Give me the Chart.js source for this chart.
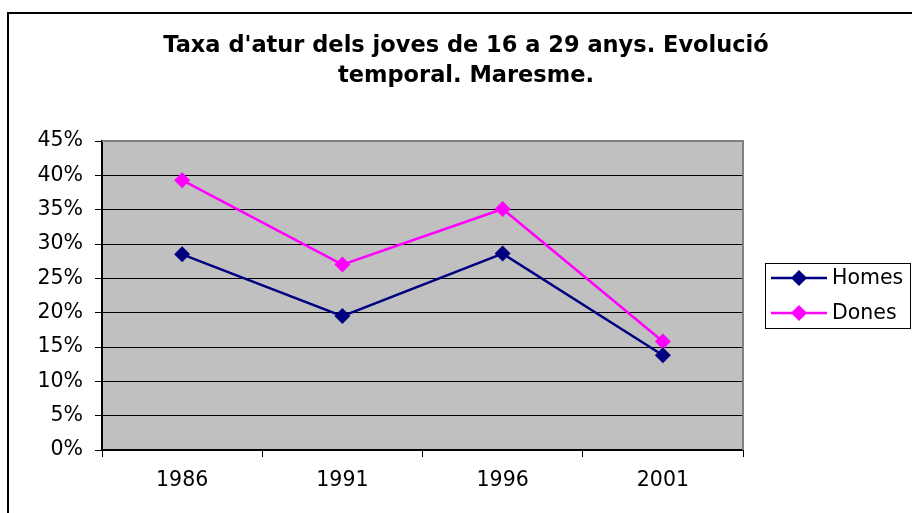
<!DOCTYPE html>
<html>
<head>
<meta charset="utf-8">
<script src="https://cdn.jsdelivr.net/npm/chart.js@4"></script>
<style>
  html, body { margin: 0; padding: 0; background: #fff; }
  #wrap { width: 912px; height: 513px; }
</style>
</head>
<body>
<div id="wrap"><canvas id="aturChart" width="912" height="513"></canvas></div>
<script>
const years = ['1986', '1991', '1996', '2001'];
const homes = [0.285, 0.195, 0.286, 0.138];
const dones = [0.393, 0.270, 0.351, 0.158];
const yTicks = [0, 0.05, 0.10, 0.15, 0.20, 0.25, 0.30, 0.35, 0.40, 0.45];
const titleLines = ["Taxa d'atur dels joves de 16 a 29 anys. Evolució", 'temporal. Maresme.'];

const FONT = "'DejaVu Sans', Verdana, sans-serif";

// gray plot background, outer frame, title, gray top/right border, boxed legend
const excelLook = {
    id: 'excelLook',
    beforeDraw(chart) {
        const ctx = chart.ctx;
        const a = chart.chartArea;
        ctx.save();
        ctx.fillStyle = '#c0c0c0';
        ctx.fillRect(a.left, a.top, a.right - a.left, a.bottom - a.top);
        // outer chart frame (runs off the canvas right and bottom)
        ctx.strokeStyle = '#000';
        ctx.lineWidth = 2;
        ctx.beginPath();
        ctx.moveTo(8, 513);
        ctx.lineTo(8, 13);
        ctx.lineTo(912, 13);
        ctx.stroke();
        // title is centred on the whole Excel chart box, not the plot
        ctx.fillStyle = '#000';
        ctx.font = 'bold 22.5px ' + FONT;
        ctx.textAlign = 'center';
        ctx.textBaseline = 'middle';
        titleLines.forEach(function(line, i) {
            ctx.fillText(line, 466, 46 + i * 30);
        });
        ctx.restore();
    },
    beforeDatasetsDraw(chart) {
        const ctx = chart.ctx;
        const a = chart.chartArea;
        ctx.save();
        ctx.strokeStyle = '#808080';
        ctx.lineWidth = 2;
        ctx.beginPath();
        ctx.moveTo(a.left, a.top);
        ctx.lineTo(a.right, a.top);
        ctx.lineTo(a.right, a.bottom);
        ctx.stroke();
        ctx.restore();
    },
    afterDraw(chart) {
        const ctx = chart.ctx;
        const bx = 765, by = 263, bw = 145, bh = 65;
        ctx.save();
        ctx.strokeStyle = '#000';
        ctx.lineWidth = 1;
        ctx.strokeRect(bx + 0.5, by + 0.5, bw, bh);
        chart.data.datasets.forEach(function(ds, i) {
            const cy = by + 15 + i * 35;
            ctx.strokeStyle = ds.borderColor;
            ctx.lineWidth = 2.5;
            ctx.beginPath();
            ctx.moveTo(771, cy);
            ctx.lineTo(827, cy);
            ctx.stroke();
            ctx.fillStyle = ds.borderColor;
            ctx.beginPath();
            ctx.moveTo(799, cy - 8); ctx.lineTo(807, cy); ctx.lineTo(799, cy + 8); ctx.lineTo(791, cy);
            ctx.closePath();
            ctx.fill();
            ctx.fillStyle = '#000';
            ctx.font = '20.5px ' + FONT;
            ctx.textBaseline = 'middle';
            ctx.fillText(ds.label, 832, cy + 1);
        });
        ctx.restore();
    }
};

const ctx = document.getElementById('aturChart').getContext('2d');
new Chart(ctx, {
    type: 'line',
    data: {
        labels: years,
        datasets: [{
            label: 'Homes',
            data: homes,
            borderColor: '#000080',
            backgroundColor: '#000080',
            borderWidth: 2.5,
            pointStyle: 'rectRot',
            pointRadius: 8,
            pointBorderWidth: 0,
            tension: 0
        }, {
            label: 'Dones',
            data: dones,
            borderColor: '#ff00ff',
            backgroundColor: '#ff00ff',
            borderWidth: 2.5,
            pointStyle: 'rectRot',
            pointRadius: 8,
            pointBorderWidth: 0,
            tension: 0
        }]
    },
    options: {
        responsive: false,
        animation: false,
        layout: { padding: { left: 20, right: 169, top: 141, bottom: 0 } },
        plugins: {
            legend: { display: false },
            tooltip: { enabled: false },
            title: { display: false }
        },
        scales: {
            x: {
                offset: true,
                grid: { drawOnChartArea: false, offset: true, color: '#000', tickLength: 7 },
                border: { color: '#000', width: 2 },
                ticks: { color: '#000', font: { family: FONT, size: 20.5 }, padding: 11 },
                afterFit(scale) { scale.height = 63; }
            },
            y: {
                min: 0,
                max: 0.45,
                afterBuildTicks(scale) { scale.ticks = yTicks.map(v => ({ value: v })); },
                grid: { color: '#000', lineWidth: 1, tickLength: 7 },
                border: { color: '#000', width: 2 },
                ticks: {
                    color: '#000',
                    font: { family: FONT, size: 20.5 },
                    padding: 12,
                    callback: function(value) { return Math.round(value * 100) + '%'; }
                },
                afterFit(scale) { scale.width = 82; }
            }
        }
    },
    plugins: [excelLook]
});
</script>
</body>
</html>
